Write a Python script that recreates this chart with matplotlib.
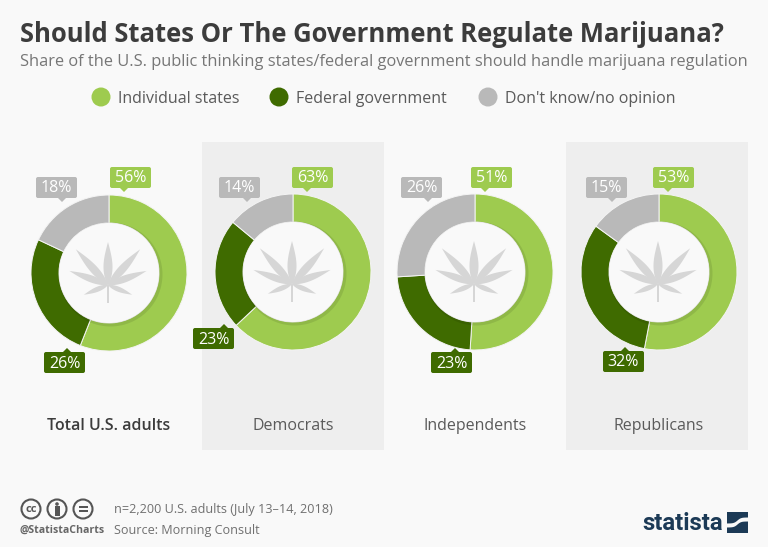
import matplotlib
matplotlib.use('Agg')
import matplotlib.pyplot as plt
import numpy as np
from matplotlib.patches import Circle, FancyBboxPatch, Polygon, Rectangle

plt.rcParams['font.family'] = ['Open Sans', 'DejaVu Sans']

W, H = 768, 547

title = 'Should States Or The Government Regulate Marijuana?'
subtitle = 'Share of the U.S. public thinking states/federal government should handle marijuana regulation'
legend_labels = ['Individual states', 'Federal government', "Don't know/no opinion"]
groups = ['Total U.S. adults', 'Democrats', 'Independents', 'Republicans']
individual_states = [56, 63, 51, 53]
federal_government = [26, 23, 23, 32]
no_opinion = [18, 14, 26, 15]

LIGHT = '#9ecb4f'
DARK = '#3f6b00'
GREY = '#b9b9b9'
BG = '#f9f9f9'
PANEL = '#eeeeee'
colors = [LIGHT, DARK, GREY]

# layout, in pixels from the top left of the picture
centers = [(109, 273), (293, 272), (475, 272), (659, 272)]
box_left = [[110, 44, 36], [292, 193, 219], [471, 431, 401], [653, 603, 586]]
box_top = [[167, 352, 177], [167, 328, 177], [167, 352, 177], [167, 351, 177]]
pointer_x = [[124, 67, 62], [307, 224, 247], [485, 455, 428], [668, 625, 612]]
leaflets = [(90, 43, 4.5), (48, 48, 4), (132, 48, 4), (20, 41, 3.5), (160, 41, 3.5), (-22, 26, 2.5), (202, 26, 2.5)]


def py(y):
	return H - y


# Draw the callout with the percentage, pointer on the side facing the ring.
def callout(ax, left, top, tip_x, color, text, up=False):
	ax.add_patch(FancyBboxPatch((left + 2, py(top + 21) + 2), 37, 17, boxstyle='round,pad=2,rounding_size=2', fc=color, ec='none', zorder=6))
	if up:
		tri = [(tip_x - 4, py(top)), (tip_x + 4, py(top)), (tip_x, py(top - 4))]
	else:
		tri = [(tip_x - 4, py(top + 21)), (tip_x + 4, py(top + 21)), (tip_x, py(top + 25))]
	ax.add_patch(Polygon(tri, fc=color, ec='none', zorder=6))
	ax.text(left + 20.5, py(top + 11.5), text, color='white', fontsize=11.5, ha='center', va='center', zorder=7)


# Cannabis leaf in the middle of a ring.
def leaf(ax, cx, cy):
	bx, by = cx - 1, cy - 12
	for ang, length, half in leaflets:
		t = np.linspace(0, 1, 30)
		w = half * np.sin(np.pi * t ** 0.8)
		a = np.deg2rad(ang)
		ux, uy = np.cos(a), np.sin(a)
		xs = np.r_[t * length, (t * length)[::-1]]
		ys = np.r_[w, -w[::-1]]
		pts = np.c_[bx + xs * ux - ys * uy, by + xs * uy + ys * ux]
		ax.add_patch(Polygon(pts, fc='#d6d6d6', ec='none', zorder=5))
	ax.add_patch(Rectangle((bx - 0.7, by - 18), 1.4, 18, fc='#d6d6d6', ec='none', zorder=5))


fig = plt.figure(figsize=(W / 100, H / 100), dpi=100, facecolor=BG)
ax = fig.add_axes([0, 0, 1, 1])

ax.add_patch(Rectangle((202, py(450)), 182, 308, fc=PANEL, ec='none', zorder=0))
ax.add_patch(Rectangle((566, py(450)), 182, 308, fc=PANEL, ec='none', zorder=0))

ax.text(20, py(34), title, fontsize=18.45, fontweight='bold', color='#3c3c3c', va='center')
ax.text(20, py(62.5), subtitle, fontsize=11.75, color='#767676', va='center')

for x, c, lab in zip([101, 279, 488], colors, legend_labels):
	ax.add_patch(Circle((x, py(97)), 9.5, fc=c, ec='none'))
	ax.text(x + 17, py(99), lab, fontsize=11.55, color='#5a5a5a', va='center')

for i, name in enumerate(groups):
	cx, cy = centers[i]
	vals = [individual_states[i], federal_government[i], no_opinion[i]]
	ax.pie(vals, colors=colors, center=(cx, py(cy)), radius=78, startangle=90, counterclock=False,
		wedgeprops=dict(width=28, edgecolor='#f4f4f4', linewidth=0.7), frame=True)
	ax.add_patch(Circle((cx + 1.5, py(cy) - 1.5), 52, fc='black', alpha=0.09, ec='none', zorder=3))
	ax.add_patch(Circle((cx, py(cy)), 50, fc=BG, ec='none', zorder=4))
	leaf(ax, cx, py(cy))
	for j in range(3):
		callout(ax, box_left[i][j], box_top[i][j], pointer_x[i][j], colors[j], f'{vals[j]}%', up=j == 1)
	ax.text(cx, py(426), name, fontsize=11.5, color='#3c3c3c' if i == 0 else '#5a5a5a',
		fontweight='semibold' if i == 0 else 'normal', ha='center', va='center')

# footer
for x in [31, 57]:
	ax.add_patch(Circle((x, py(509)), 9.5, fc='none', ec='#555555', lw=1.5))
ax.text(31, py(510), 'cc', fontsize=8, fontweight='bold', color='#555555', ha='center', va='center')
ax.add_patch(Circle((57, py(504)), 1.8, fc='#555555', ec='none'))
ax.add_patch(Rectangle((54.5, py(516)), 5, 10, fc='#555555', ec='none'))
ax.add_patch(Circle((83, py(509)), 9.5, fc='none', ec='#555555', lw=1.5))
ax.add_patch(Rectangle((78.5, py(507.5)), 9, 1.8, fc='#555555', ec='none'))
ax.add_patch(Rectangle((78.5, py(512)), 9, 1.8, fc='#555555', ec='none'))
ax.text(20, py(530), '@StatistaCharts', fontsize=7.6, fontweight='bold', color='#666666', va='center')
ax.text(114, py(510), 'n=2,200 U.S. adults (July 13–14, 2018)', fontsize=9.1, color='#707070', va='center')
ax.text(114, py(530.5), 'Source: Morning Consult', fontsize=9.1, color='#707070', va='center')

ax.text(642, py(524), 'statista', fontsize=17.2, fontweight='bold', color='#1c3a56', va='center', family='Roboto', stretch='condensed')
ax.add_patch(Rectangle((727, py(533)), 21, 21, fc='#1c3a56', ec='none'))
t = np.linspace(0, 1, 40)
wave = 3 * np.tanh((t - 0.5) * 6)
ax.add_patch(Polygon(np.r_[np.c_[727 + 21 * t, py(522.5) + wave + 2], np.c_[(727 + 21 * t)[::-1], (py(522.5) + wave - 2)[::-1]]], fc=BG, ec='none'))

ax.set_xlim(0, W)
ax.set_ylim(0, H)
ax.axis('off')
fig.savefig('out.png', dpi=100, facecolor=BG)
